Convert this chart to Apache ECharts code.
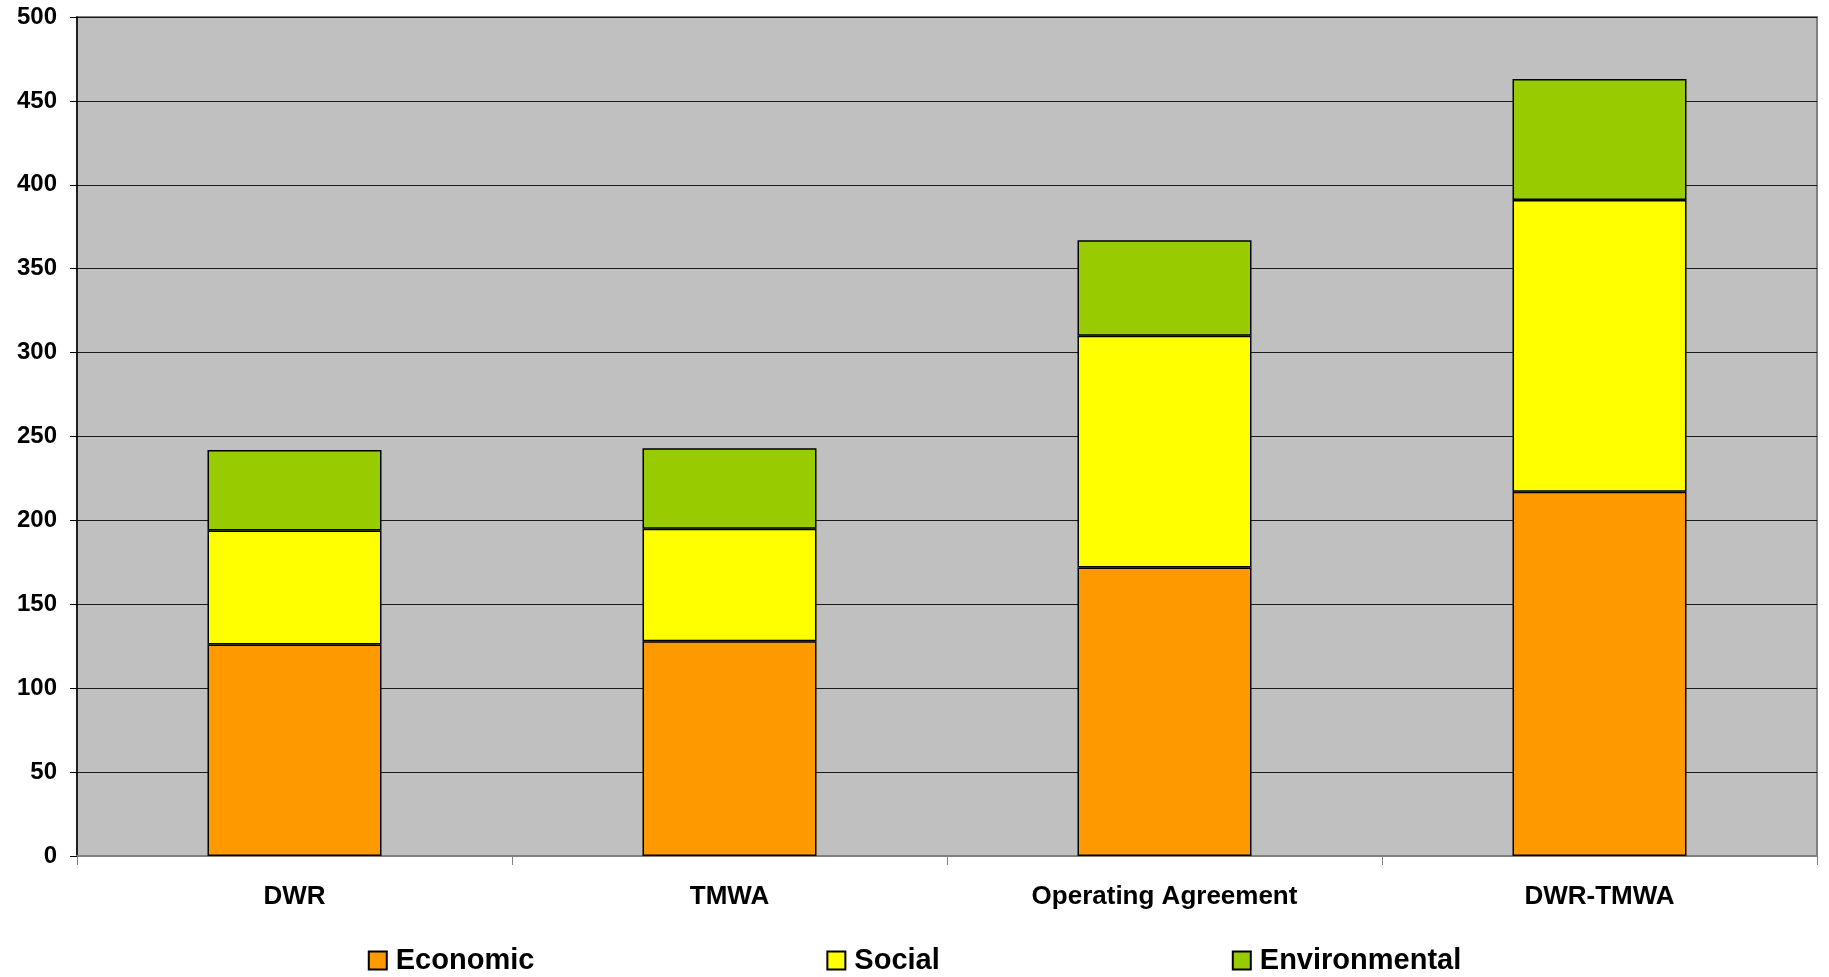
<!DOCTYPE html>
<html>
<head>
<meta charset="utf-8">
<script src="https://cdn.jsdelivr.net/npm/echarts@6/dist/echarts.min.js"></script>
<style>
html,body{margin:0;padding:0;background:#fff;}
#chart{width:1829px;height:977px;}
</style>
</head>
<body>
<div id="chart"></div>
<script>
const categories = ['DWR', 'TMWA', 'Operating Agreement', 'DWR-TMWA'];
const economic = [126, 128, 172, 217];
const social = [68, 67, 138, 174];
const environmental = [48, 48, 57, 72];
const seriesNames = ['Economic', 'Social', 'Environmental'];
const seriesColors = ['#FF9900', '#FFFF00', '#99CC00'];
const seriesData = [economic, social, environmental];

const FONT = 'Liberation Sans, Arial, sans-serif';
const chart = echarts.init(document.getElementById('chart'));
chart.setOption({
  animation: false,
  backgroundColor: '#ffffff',
  grid: {
    left: 77, right: 12, top: 17, bottom: 121,
    show: true, backgroundColor: '#C0C0C0', borderColor: '#808080', borderWidth: 2
  },
  legend: {
    top: 941,
    left: 'center',
    itemGap: 292,
    itemWidth: 18,
    itemHeight: 18,
    icon: 'rect',
    textStyle: { fontFamily: FONT, fontWeight: 'bold', fontSize: 29, color: '#000', padding: [0, 0, 0, 4] },
    data: seriesNames.map((n, i) => ({ name: n, itemStyle: { color: seriesColors[i], borderColor: '#000', borderWidth: 2 } }))
  },
  xAxis: {
    type: 'category',
    data: categories,
    axisLine: { show: true, lineStyle: { color: '#808080', width: 2 } },
    axisTick: { show: true, length: 9, lineStyle: { color: '#808080', width: 1 } },
    axisLabel: { margin: 28, fontFamily: FONT, fontWeight: 'bold', fontSize: 26, color: '#000' },
    splitLine: { show: false }
  },
  yAxis: {
    type: 'value',
    min: 0, max: 500, interval: 50,
    axisLine: { show: true, lineStyle: { color: '#000', width: 1.5 } },
    axisTick: { show: true, length: 7, lineStyle: { color: '#000', width: 1 } },
    axisLabel: { margin: 20, fontFamily: FONT, fontWeight: 'bold', fontSize: 24, color: '#000' },
    splitLine: { show: true, lineStyle: { color: '#1a1a1a', width: 1 } }
  },
  series: seriesNames.map((n, i) => ({
    name: n,
    type: 'bar',
    stack: 'total',
    barWidth: '40%',
    data: seriesData[i],
    itemStyle: { color: seriesColors[i], borderColor: '#000', borderWidth: 1.5 }
  }))
});
</script>
</body>
</html>
